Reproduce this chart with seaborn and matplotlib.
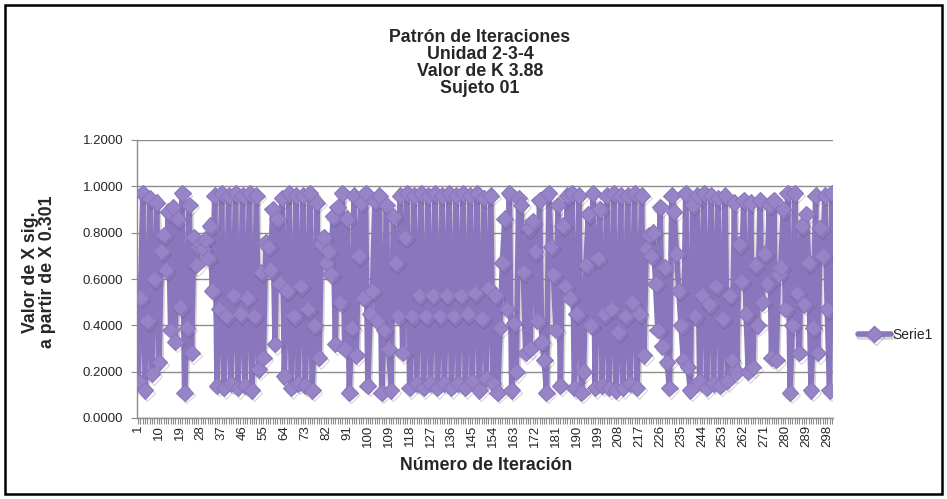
import matplotlib
matplotlib.use("Agg")
import matplotlib.pyplot as plt
import matplotlib.patheffects as pe
from matplotlib.patches import Rectangle
from matplotlib.lines import Line2D
import seaborn as sns
import pandas as pd

# ---------------- data ----------------
title_lines = ["Patrón de Iteraciones", "Unidad 2-3-4", "Valor de K 3.88", "Sujeto 01"]
y_label = "Valor de X sig.\na partir de X 0.301"
x_label = "Número de Iteración"
series_name = "Serie1"

iteraciones = list(range(1, 301))
valores = [
    0.16, 0.52, 0.97, 0.12, 0.42, 0.95, 0.19, 0.60, 0.93, 0.24,
    0.72, 0.79, 0.64, 0.89, 0.38, 0.91, 0.33, 0.86, 0.48, 0.97,
    0.11, 0.39, 0.92, 0.28, 0.78, 0.66, 0.74, 0.75, 0.73, 0.77,
    0.69, 0.83, 0.55, 0.96, 0.14, 0.47, 0.97, 0.13, 0.44, 0.96,
    0.15, 0.53, 0.97, 0.13, 0.45, 0.96, 0.14, 0.52, 0.97, 0.12,
    0.44, 0.96, 0.21, 0.63, 0.26, 0.76, 0.74, 0.64, 0.90, 0.32,
    0.86, 0.58, 0.95, 0.18, 0.55, 0.97, 0.13, 0.44, 0.96, 0.15,
    0.57, 0.96, 0.14, 0.47, 0.97, 0.12, 0.40, 0.93, 0.26, 0.75,
    0.78, 0.67, 0.72, 0.62, 0.87, 0.32, 0.91, 0.50, 0.97, 0.30,
    0.86, 0.11, 0.39, 0.96, 0.27, 0.70, 0.93, 0.52, 0.97, 0.14,
    0.45, 0.55, 0.94, 0.42, 0.96, 0.11, 0.38, 0.92, 0.30, 0.12,
    0.87, 0.67, 0.44, 0.96, 0.28, 0.78, 0.97, 0.13, 0.44, 0.96,
    0.15, 0.53, 0.97, 0.13, 0.44, 0.96, 0.15, 0.53, 0.97, 0.13,
    0.44, 0.96, 0.15, 0.53, 0.97, 0.13, 0.44, 0.96, 0.15, 0.53,
    0.97, 0.13, 0.45, 0.96, 0.16, 0.54, 0.97, 0.12, 0.43, 0.95,
    0.17, 0.56, 0.96, 0.15, 0.53, 0.11, 0.39, 0.67, 0.86, 0.47,
    0.97, 0.12, 0.41, 0.20, 0.95, 0.92, 0.63, 0.28, 0.82, 0.30,
    0.85, 0.72, 0.42, 0.94, 0.33, 0.25, 0.11, 0.97, 0.74, 0.62,
    0.38, 0.92, 0.14, 0.83, 0.57, 0.96, 0.52, 0.97, 0.13, 0.45,
    0.96, 0.11, 0.20, 0.66, 0.88, 0.40, 0.97, 0.13, 0.69, 0.90,
    0.14, 0.45, 0.96, 0.13, 0.47, 0.97, 0.12, 0.37, 0.96, 0.13,
    0.44, 0.96, 0.15, 0.50, 0.97, 0.13, 0.45, 0.96, 0.27, 0.73,
    0.79, 0.70, 0.80, 0.58, 0.38, 0.91, 0.31, 0.65, 0.24, 0.13,
    0.96, 0.89, 0.71, 0.55, 0.40, 0.25, 0.97, 0.22, 0.12, 0.92,
    0.44, 0.96, 0.16, 0.53, 0.97, 0.13, 0.49, 0.96, 0.15, 0.57,
    0.95, 0.14, 0.43, 0.96, 0.16, 0.53, 0.25, 0.93, 0.20, 0.75,
    0.59, 0.94, 0.45, 0.20, 0.93, 0.22, 0.66, 0.40, 0.94, 0.50,
    0.71, 0.58, 0.92, 0.26, 0.94, 0.25, 0.62, 0.65, 0.90, 0.47,
    0.97, 0.11, 0.40, 0.97, 0.54, 0.28, 0.83, 0.49, 0.88, 0.67,
    0.12, 0.39, 0.96, 0.28, 0.82, 0.70, 0.96, 0.47, 0.12, 0.97,
]
y_ticks = [0.0, 0.2, 0.4, 0.6, 0.8, 1.0, 1.2]

# ---------------- style ----------------
sns.set_theme(style="white")
plt.rcParams["font.family"] = ["Liberation Sans", "DejaVu Sans"]

W, H = 947, 499
fig = plt.figure(figsize=(W / 100, H / 100), dpi=100)
ax = fig.add_axes([137 / W, 1 - 418 / H, (833 - 137) / W, (418 - 140) / H])

purple = "#8a76bd"
face = "#9784c6"
shadow = [pe.SimpleLineShadow(offset=(1.2, -1.8), alpha=0.22, shadow_color="#444444"),
          pe.Normal()]
df = pd.DataFrame({"Iteracion": iteraciones, "Valor": valores})
sns.lineplot(data=df, x="Iteracion", y="Valor", ax=ax, color=purple,
             linewidth=4.0, marker="D", markersize=8.5,
             markeredgecolor=purple, markerfacecolor=face, markeredgewidth=0.8,
             legend=False, zorder=3, path_effects=shadow)

ax.set_xlim(0.5, 300.5)
ax.set_ylim(0, 1.2)
ax.set_yticks(y_ticks)
ax.set_yticklabels([f"{v:.4f}" for v in y_ticks], fontsize=9.5)
ax.yaxis.grid(True, color="#8c8c8c", linewidth=1.0)
ax.set_axisbelow(True)

ax.set_xticks(iteraciones)
ax.set_xticklabels([str(i) if (i - 1) % 9 == 0 else "" for i in iteraciones],
                   rotation=90, fontsize=9.5)
ax.tick_params(axis="x", length=4, width=0.8, color="#8c8c8c", pad=1, direction="out", bottom=True)
ax.tick_params(axis="y", length=4, width=0.8, color="#8c8c8c", pad=6, direction="out", left=True)

for s in ["top", "right"]:
    ax.spines[s].set_visible(False)
for s in ["left", "bottom"]:
    ax.spines[s].set_color("#8c8c8c")
    ax.spines[s].set_linewidth(1.0)
ax.set_xlabel("")
ax.set_ylabel("")

# titles & labels
fig.text(480 / W, 1 - 63 / H, "\n".join(title_lines), ha="center", va="center",
         fontsize=12.8, fontweight="bold", linespacing=0.98)
fig.text(39 / W, 1 - 272 / H, y_label, ha="center", va="center", rotation=90,
         fontsize=12.8, fontweight="bold", multialignment="center", linespacing=1.05)
fig.text(486 / W, 1 - 466 / H, x_label, ha="center", va="center",
         fontsize=12.8, fontweight="bold")

# legend
h = Line2D([], [], color=purple, linewidth=4.0, marker="D", markersize=8.5,
           markerfacecolor=face, markeredgecolor=purple, path_effects=shadow)
fig.legend([h], [series_name], loc="center left", bbox_to_anchor=(845 / W, 1 - 335 / H),
           frameon=False, fontsize=10, handlelength=2.4, handletextpad=0.1)

# outer border
fig.patches.append(Rectangle((5 / W, 5 / H), 1 - 10 / W, 1 - 10 / H, transform=fig.transFigure,
                             fill=False, edgecolor="black", linewidth=1.8))

fig.savefig("out.png", dpi=100)
